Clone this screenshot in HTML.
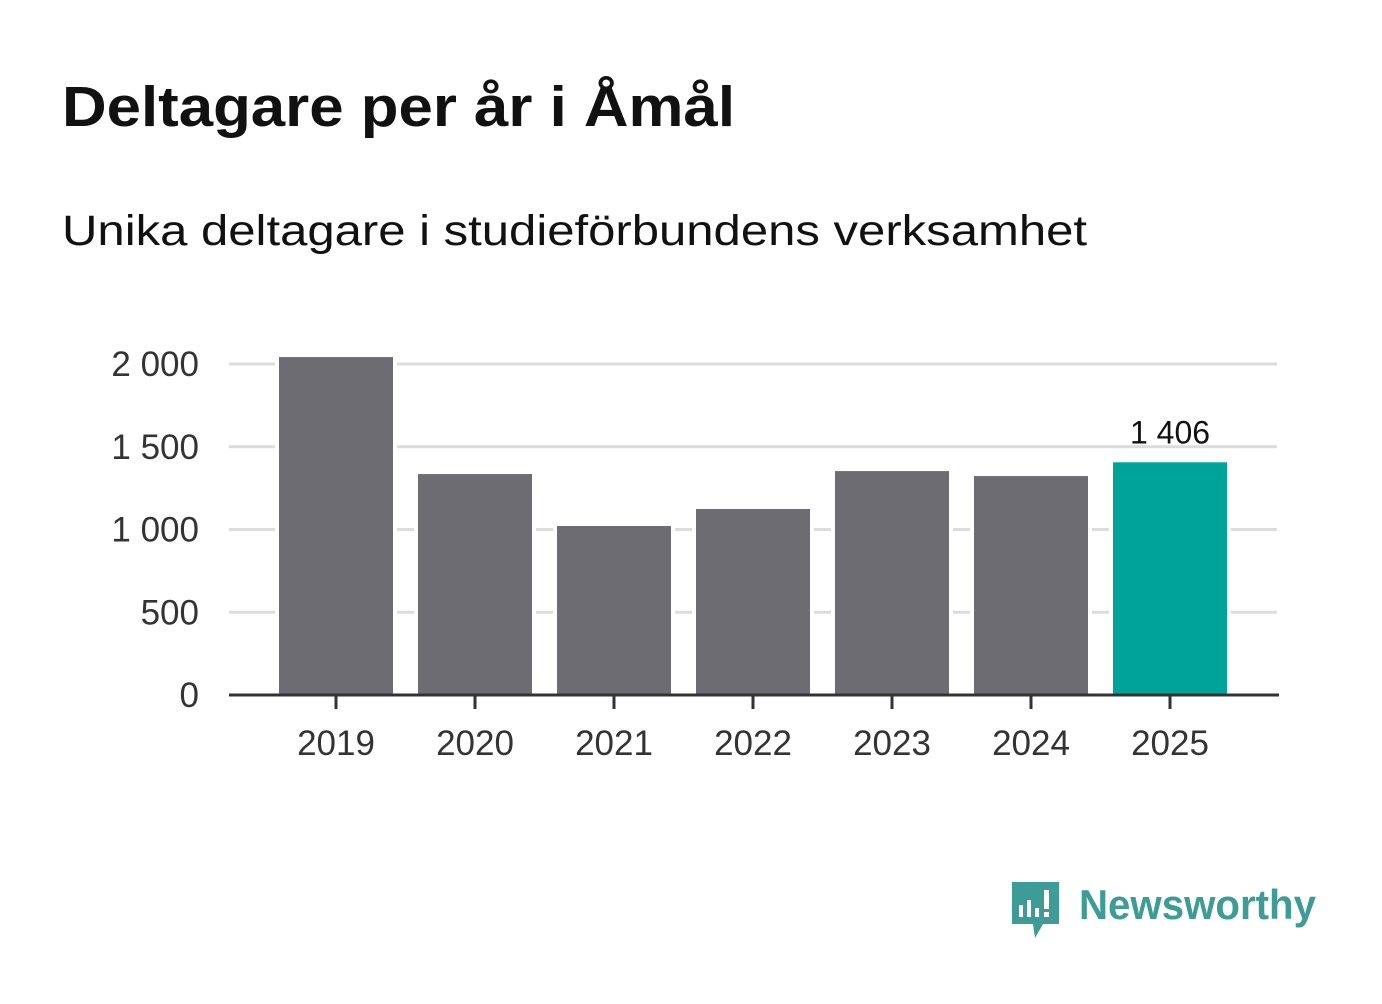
<!DOCTYPE html>
<html><head><meta charset="utf-8"><style>
body{margin:0;width:1382px;height:999px;background:#fff;overflow:hidden;font-family:"Liberation Sans","DejaVu Sans",sans-serif}
</style></head><body>
<svg width="1382" height="999" xmlns="http://www.w3.org/2000/svg">
<text x="62" y="126" font-size="57" font-weight="bold" fill="#111" textLength="673" lengthAdjust="spacingAndGlyphs">Deltagare per år i Åmål</text>
<text x="62" y="245" font-size="43" fill="#111" textLength="1025" lengthAdjust="spacingAndGlyphs">Unika deltagare i studieförbundens verksamhet</text>
<g id="grid"></g><g id="bars"></g><g id="axis"></g>
<g>
<path d="M1012 882 h47 v42 h-16 l-8 14 l-2 -14 h-21 z" fill="#3d9c96"/>
<rect x="1019" y="905" width="4" height="12" fill="#fff"/><rect x="1027" y="900" width="4" height="17" fill="#fff"/><rect x="1035" y="908" width="4" height="9" fill="#fff"/><rect x="1044" y="890" width="5" height="19" fill="#fff"/><rect x="1044" y="912" width="5" height="5" fill="#fff"/>
<text x="1079" y="919" font-size="42" font-weight="bold" fill="#3d9c96" textLength="237" lengthAdjust="spacingAndGlyphs">Newsworthy</text>
</g>
</svg>
<script>
const years=["2019","2020","2021","2022","2023","2024","2025"];
const values=[2042,1335,1021,1124,1353,1323,1406];
const yTicks=[0,500,1000,1500,2000];
const yTickLabels=["0","500","1 000","1 500","2 000"];
const highlightLabel="1 406";
const NS="http://www.w3.org/2000/svg";
const y=v=>695-v*331/2000;
const xc=i=>336+i*139;
function mk(t,a,p){const e=document.createElementNS(NS,t);for(const k in a)e.setAttribute(k,a[k]);p.appendChild(e);return e;}
const g=document.getElementById('grid'),b=document.getElementById('bars'),ax=document.getElementById('axis');
yTicks.forEach((v,i)=>{
 if(v>0){const l=mk('line',{x1:229,x2:1277,y1:y(v),y2:y(v),stroke:'#dcdcdc','stroke-width':3},g);
 
 }
 const t=mk('text',{x:199,y:y(v)+12,'font-size':35,'text-anchor':'end',fill:'#333'},g);t.textContent=yTickLabels[i];
 
 
});
values.forEach((v,i)=>{
 const last=i===values.length-1;
 const r=mk('rect',{x:xc(i)-57,y:y(v),width:114,height:y(0)-y(v),fill:last?'#00a398':'#6d6c73',stroke:'#fff','stroke-width':8,'paint-order':'stroke'},b);
 
 
 const tk=mk('line',{x1:xc(i),x2:xc(i),y1:695,y2:709,stroke:'#333','stroke-width':3},ax);
 
 
 const t=mk('text',{x:xc(i),y:755,'font-size':35,'text-anchor':'middle',fill:'#333'},ax);t.textContent=years[i];
 
 
 if(last){const lb=mk('text',{x:xc(i),y:y(v)-19,'font-size':32,'text-anchor':'middle',fill:'#111'},ax);lb.textContent=highlightLabel;
 
 }
});
const al=mk('line',{x1:229,x2:1279,y1:695,y2:695,stroke:'#333','stroke-width':3},ax);


</script>
</body></html>
